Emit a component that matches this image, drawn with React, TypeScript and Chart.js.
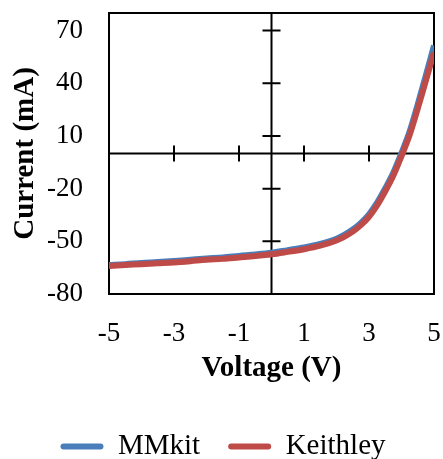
import React, { useEffect, useRef } from "react";
import { Chart, registerables } from "chart.js";

Chart.register(...registerables);

const voltage = [-5, -4.5, -4, -3.5, -3, -2.5, -2, -1.5, -1, -0.5, 0, 0.5, 1, 1.5, 2, 2.25, 2.5, 2.75, 3, 3.25, 3.5, 3.75, 4, 4.25, 4.5, 4.75, 5];
const mmkitCurrent = [-63.5, -63, -62.3, -61.8, -61.2, -60.5, -59.8, -59.2, -58.3, -57.5, -56.5, -55, -53.5, -51.5, -48.5, -46.2, -43.3, -39.5, -34.6, -28, -19.8, -10.8, 0.3, 12.5, 28, 44.5, 61.5];
const keithleyCurrent = [-64, -63.5, -63, -62.5, -62, -61.3, -60.5, -60, -59.2, -58.4, -57.4, -56, -54.5, -52.5, -49.5, -47.3, -44.5, -40.8, -36, -29.5, -21.5, -12.5, -1.5, 10.5, 25.5, 41.5, 57.5];

const xTickValues = [-5, -3, -1, 1, 3, 5];
const yTickValues = [-80, -50, -20, 10, 40, 70];
const seriesNames = ["MMkit", "Keithley"];
const seriesColors = ["#4A7EBB", "#BE4B48"];

const FONT = "'Liberation Serif', 'Times New Roman', serif";

const crossAxesPlugin = {
  id: "crossAxes",
  beforeDatasetsDraw(chart: any) {
    const { ctx, chartArea: a, scales } = chart;
    const xs = scales.x;
    const ys = scales.y;
    const x0 = xs.getPixelForValue(0);
    const y0 = ys.getPixelForValue(0);
    ctx.save();
    ctx.strokeStyle = "#000";
    ctx.lineWidth = 2;
    ctx.strokeRect(a.left, a.top, a.right - a.left, a.bottom - a.top);
    ctx.beginPath();
    ctx.moveTo(a.left, y0);
    ctx.lineTo(a.right, y0);
    ctx.moveTo(x0, a.top);
    ctx.lineTo(x0, a.bottom);
    xs.ticks.forEach((t: any) => {
      const px = xs.getPixelForValue(t.value);
      ctx.moveTo(px, y0 - 8);
      ctx.lineTo(px, y0 + 8);
    });
    ys.ticks.forEach((t: any) => {
      const py = ys.getPixelForValue(t.value);
      ctx.moveTo(x0 - 9, py);
      ctx.lineTo(x0 + 9, py);
    });
    ctx.stroke();
    ctx.restore();
  },
};

export default function App() {
  const canvasRef = useRef<HTMLCanvasElement | null>(null);

  useEffect(() => {
    if (!canvasRef.current) return;
    const makePoints = (ys: number[]) => voltage.map((v, i) => ({ x: v, y: ys[i] }));
    const chart = new Chart(canvasRef.current, {
      type: "line",
      data: {
        datasets: [
          {
            label: seriesNames[0],
            data: makePoints(mmkitCurrent),
            borderColor: seriesColors[0],
            backgroundColor: seriesColors[0],
            borderWidth: 6,
            pointRadius: 0,
            cubicInterpolationMode: "monotone",
            order: 1,
          },
          {
            label: seriesNames[1],
            data: makePoints(keithleyCurrent),
            borderColor: seriesColors[1],
            backgroundColor: seriesColors[1],
            borderWidth: 6,
            pointRadius: 0,
            cubicInterpolationMode: "monotone",
            order: 0,
          },
        ],
      },
      options: {
        animation: false,
        responsive: false,
        layout: { padding: { left: 12, right: 9, top: 13, bottom: -12 } },
        plugins: {
          tooltip: { enabled: false },
          legend: {
            position: "bottom",
            labels: {
              sort: (a: any, b: any) => a.datasetIndex - b.datasetIndex,
              boxWidth: 43,
              boxHeight: 6,
              padding: 28,
              color: "#000",
              font: { family: FONT, size: 29, lineHeight: 1 },
              generateLabels: (chart: any) =>
                chart.data.datasets.map((ds: any, i: number) => ({
                  text: ds.label,
                  fillStyle: ds.borderColor,
                  strokeStyle: ds.borderColor,
                  lineWidth: 0,
                  borderRadius: 3,
                  hidden: false,
                  datasetIndex: i,
                })),
            },
          },
        },
        scales: {
          x: {
            type: "linear",
            min: -5,
            max: 5,
            afterBuildTicks: (scale: any) => {
              scale.ticks = xTickValues.map((v) => ({ value: v }));
            },
            afterFit: (scale: any) => {
              scale.height = 110;
              scale.paddingLeft = 0;
              scale.paddingRight = 0;
            },
            grid: { display: false, drawTicks: false },
            border: { display: false },
            ticks: {
              autoSkip: false,
              maxRotation: 0,
              padding: 24,
              color: "#000",
              font: { family: FONT, size: 27 },
              callback: (v: any) => String(v),
            },
            title: {
              display: true,
              text: "Voltage (V)",
              color: "#000",
              font: { family: FONT, size: 29, weight: "bold" },
              padding: { top: 0, bottom: 18 },
            },
          },
          y: {
            type: "linear",
            min: -80,
            max: 80,
            afterBuildTicks: (scale: any) => {
              scale.ticks = yTickValues.map((v) => ({ value: v }));
            },
            afterFit: (scale: any) => {
              scale.width = 97;
              scale.paddingTop = 0;
              scale.paddingBottom = 0;
            },
            grid: { display: false, drawTicks: false },
            border: { display: false },
            ticks: {
              padding: 26,
              color: "#000",
              font: { family: FONT, size: 27 },
              callback: (v: any) => String(v),
            },
            title: {
              display: true,
              text: "Current (mA)",
              color: "#000",
              font: { family: FONT, size: 29, weight: "bold" },
              padding: { top: -4, bottom: 0 },
            },
          },
        },
      },
      plugins: [crossAxesPlugin],
    } as any);
    return () => chart.destroy();
  }, []);

  return (
    <div style={{ position: "fixed", left: 0, top: 0, width: 443, height: 459, background: "#fff" }}>
      <canvas ref={canvasRef} width={443} height={459} style={{ display: "block" }} />
    </div>
  );
}
